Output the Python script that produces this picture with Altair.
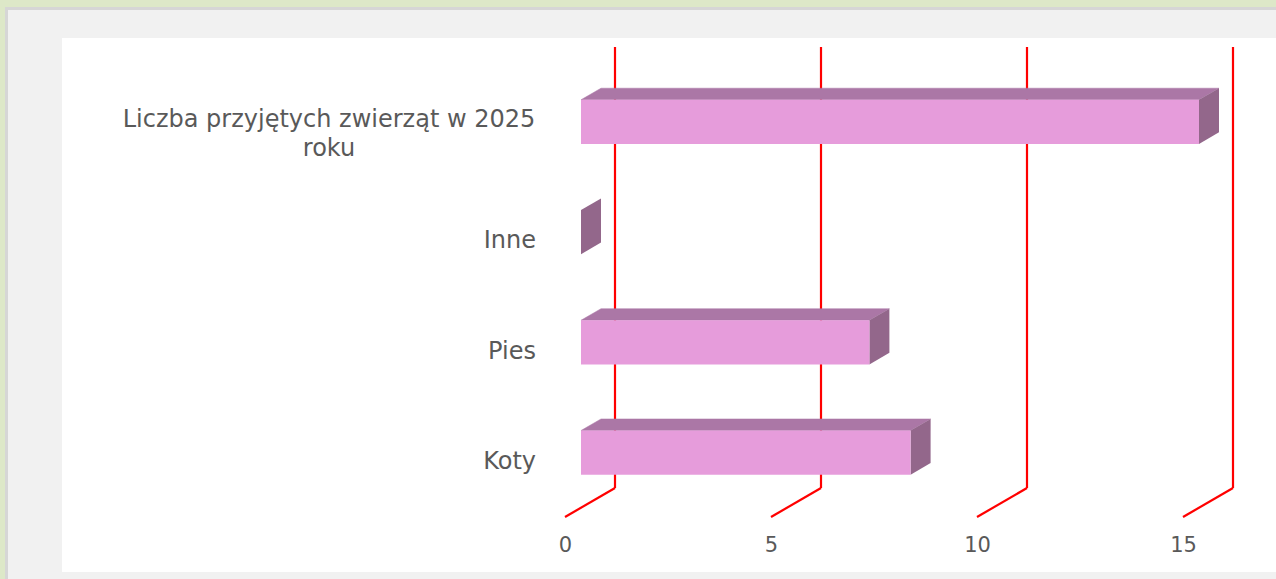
import altair as alt
import pandas as pd

# ---- data ----
categories = ["Koty", "Pies", "Inne", "Liczba przyjętych zwierząt w 2025 roku"]
values = [8, 7, 0, 15]
tick_values = [0, 5, 10, 15]
wrapped = {"Liczba przyjętych zwierząt w 2025 roku": "Liczba przyjętych zwierząt w 2025\nroku"}

# ---- layout / 3D style constants ----
W, H = 675, 470
PX_X = 41.2          # pixels per unit on x
PX_Y = 110.25        # pixels per category band
X_MAX = W / PX_X
WALL_DX = 50 / PX_X  # depth offset of back wall (x units)
WALL_DY = 29 / PX_Y  # depth offset of back wall (y units)
N = len(categories)
Y_MAX = H / PX_Y
D0, D1 = 0.32, 0.72  # bar depth (front, back) as fraction of wall depth
HALF = 0.2           # half bar height in band units

FRONT_C = "#E69CDB"
TOP_C = "#AB77A6"
SIDE_C = "#93678B"
GRID_C = "#FF0000"
TEXT_C = "#595959"
FONT = "DejaVu Sans"
CAT_FS = 24
TICK_FS = 21

ddx = (D1 - D0) * WALL_DX
ddy = (D1 - D0) * WALL_DY

front_rows, top_rows, side_rows, label_rows = [], [], [], []
for k, (c, v) in enumerate(zip(categories, values)):
    a = D0 * WALL_DX
    b = v + D0 * WALL_DX
    yb = k + 0.5 - HALF + D0 * WALL_DY
    yt = k + 0.5 + HALF + D0 * WALL_DY
    if v > 0:
        front_rows.append(dict(cat=c, x=a, x2=b, y=yb, y2=yt))
        # top face polygon (corners in drawing order)
        top_rows += [
            dict(cat=c, o=0, x=a, y=yt),
            dict(cat=c, o=1, x=b, y=yt),
            dict(cat=c, o=2, x=b + ddx, y=yt + ddy),
            dict(cat=c, o=3, x=a + ddx, y=yt + ddy),
            dict(cat=c, o=4, x=a, y=yt),
        ]
    side_rows += [
        dict(cat=c, x=b, lo=yb, hi=yt),
        dict(cat=c, x=b + ddx, lo=yb + ddy, hi=yt + ddy),
    ]
    label_rows.append(dict(cat=c, txt=wrapped.get(c, c), yc=k + 0.5, multi=c in wrapped))

front = pd.DataFrame(front_rows)
top = pd.DataFrame(top_rows)
side = pd.DataFrame(side_rows)
labels = pd.DataFrame(label_rows)

grid_rows = []
for t in tick_values:
    grid_rows.append(dict(x=t + WALL_DX, x2=t + WALL_DX, y=WALL_DY, y2=N + WALL_DY))
    grid_rows.append(dict(x=t, x2=t + WALL_DX, y=0, y2=WALL_DY))
grid = pd.DataFrame(grid_rows)

xs = alt.Scale(domain=[0, X_MAX], nice=False, zero=False)
ys = alt.Scale(domain=[0, Y_MAX], nice=False, zero=False)
xaxis = alt.Axis(values=tick_values, domain=False, ticks=False, grid=False,
                 labelFontSize=TICK_FS, labelColor=TEXT_C, labelFont=FONT,
                 labelPadding=17, labelFlush=False, title=None, zindex=2)

one = pd.DataFrame({"a": [0]})

def bg(color, x0, y0, x1, y1):
    return alt.Chart(one).mark_rect(color=color).encode(
        x=alt.value(x0 - 565), x2=alt.value(x1 - 565),
        y=alt.value(y0 - 47), y2=alt.value(y1 - 47))

bgs = [
    bg("#D6D6D6", 5, 7, 1276, 579),
    bg("#F1F1F1", 8, 10, 1276, 579),
    bg("#FFFFFF", 62, 38, 1276, 572),
]

grid_layer = alt.Chart(grid).mark_rule(color=GRID_C, strokeWidth=2.2).encode(
    x=alt.X("x:Q", scale=xs, axis=xaxis), x2="x2:Q",
    y=alt.Y("y:Q", scale=ys, axis=None), y2="y2:Q")

top_layer = alt.Chart(top).mark_line(color=TOP_C, fill=TOP_C, strokeWidth=0.5).encode(
    x=alt.X("x:Q", scale=xs, axis=xaxis),
    y=alt.Y("y:Q", scale=ys, axis=None),
    detail="cat:N", order="o:Q")

side_layer = alt.Chart(side).mark_area(color=SIDE_C).encode(
    x=alt.X("x:Q", scale=xs, axis=xaxis),
    y=alt.Y("lo:Q", scale=ys, axis=None), y2="hi:Q",
    detail="cat:N")

front_layer = alt.Chart(front).mark_rect(color=FRONT_C).encode(
    x=alt.X("x:Q", scale=xs, axis=xaxis), x2="x2:Q",
    y=alt.Y("y:Q", scale=ys, axis=None), y2="y2:Q")

lab_single = alt.Chart(labels).transform_filter("!datum.multi").mark_text(
    align="right", baseline="middle", fontSize=CAT_FS, font=FONT, color=TEXT_C).encode(
    x=alt.value(536 - 565), y=alt.Y("yc:Q", scale=ys, axis=None), text="txt:N")

lab_multi = alt.Chart(labels).transform_filter("datum.multi").mark_text(
    align="center", baseline="middle", fontSize=CAT_FS, font=FONT, color=TEXT_C,
    lineBreak="\n", lineHeight=29, dy=-11).encode(
    x=alt.value(329 - 565), y=alt.Y("yc:Q", scale=ys, axis=None), text="txt:N")

chart = alt.layer(*bgs, grid_layer, top_layer, side_layer, front_layer,
                  lab_single, lab_multi).properties(
    width=W, height=H,
    autosize=alt.AutoSizeParams(type="none"),
    padding={"left": 565, "top": 47, "right": 36, "bottom": 62},
    background="#DDE8C8",
).configure_view(strokeWidth=0)

chart.save("out.html", embed_options={"renderer": "svg", "actions": False})
